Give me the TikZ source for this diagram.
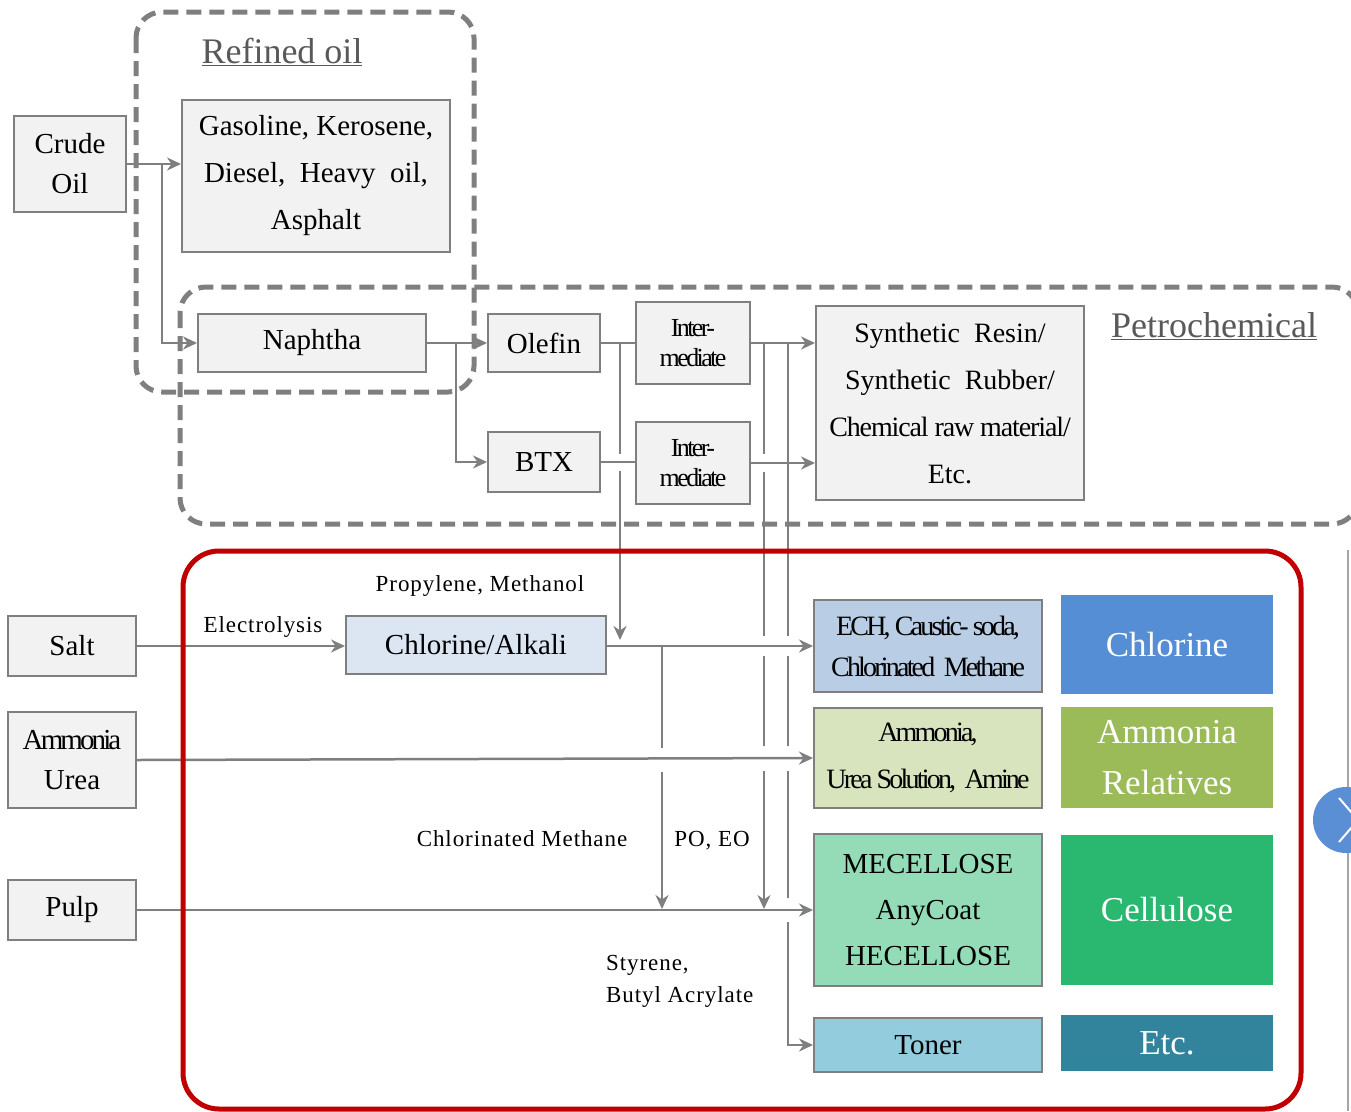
\documentclass[tikz,border=0pt]{standalone}
\usepackage{fontspec}
\setmainfont{Liberation Serif}
\newfontfamily\condfont[LetterSpace=-10]{Liberation Serif}
\newfontfamily\semicond[LetterSpace=-4]{Liberation Serif}
\newfontfamily\widefont[LetterSpace=4]{Liberation Serif}
\usetikzlibrary{arrows.meta}
\definecolor{lgray}{HTML}{7F7F7F}
\definecolor{boxfill}{HTML}{F2F2F2}
\definecolor{ttlgray}{HTML}{595959}
\definecolor{clfill}{HTML}{DCE6F2}
\definecolor{echfill}{HTML}{B9CDE5}
\definecolor{ammfill}{HTML}{D7E4BD}
\definecolor{mecfill}{HTML}{94DCB8}
\definecolor{tonfill}{HTML}{93CDDD}
\definecolor{catcl}{HTML}{558ED5}
\definecolor{catam}{HTML}{9BBB59}
\definecolor{catce}{HTML}{2AB870}
\definecolor{catet}{HTML}{31849B}
\definecolor{redb}{HTML}{C00000}
\definecolor{sidegray}{HTML}{A6A6A6}
\definecolor{circblue}{HTML}{5A8FD6}
\begin{document}
\begin{tikzpicture}[x=1pt,y=-1pt,
  gbox/.style={draw=lgray, line width=2pt, fill=boxfill, inner sep=0pt, align=center, text=black,
    font=\fontsize{29}{47}\selectfont},
  cbox/.style={inner sep=0pt, align=center, text=white, font=\fontsize{35}{51}\selectfont},
  conn/.style={draw=lgray, line width=2.5pt},
  arr/.style={conn, -{Stealth[length=14pt,width=13pt,inset=4.5pt]}},
  lbl/.style={inner sep=0pt, font=\widefont\fontsize{23}{32}\selectfont},
  grp/.style={draw=lgray, line width=5pt, dash pattern=on 15pt off 8pt, rounded corners=26pt},
  ttl/.style={inner sep=0pt, text=ttlgray, font=\fontsize{36}{40}\selectfont},
]
\useasboundingbox (0,0) rectangle (1351,1111);
\clip (0,0) rectangle (1351,1111);

% ---------- boxes ----------
\node[gbox, minimum width=112, minimum height=96, font=\fontsize{29}{40}\selectfont] (crude) at (70,164) {Crude\\Oil};
\node[gbox, minimum width=268, minimum height=152] (gas) at (316,176) {Gasoline, Kerosene,\\Diesel,\ \ Heavy\ \ oil,\\Asphalt};
\node[gbox, minimum width=228, minimum height=58] (naph) at (312,343) {Naphtha};
\node[gbox, minimum width=112, minimum height=58] (olefin) at (544,343) {Olefin};
\node[gbox, minimum width=112, minimum height=60] (btx) at (544,462) {BTX};
\node[gbox, minimum width=114, minimum height=82, font=\condfont\fontsize{26}{30}\selectfont] (int1) at (693,343) {Inter-\\mediate};
\node[gbox, minimum width=114, minimum height=82, font=\condfont\fontsize{26}{30}\selectfont] (int2) at (693,463) {Inter-\\mediate};
\node[gbox, minimum width=268, minimum height=194, font=\fontsize{28}{47}\selectfont] (synth) at (950,403)
  {Synthetic\ \ Resin/\\Synthetic\ \ Rubber/\\{\semicond Chemical raw material/}\\Etc.};

\node[gbox, minimum width=128, minimum height=60] (salt) at (72,646) {Salt};
\node[gbox, minimum width=128, minimum height=96, font=\fontsize{29}{40}\selectfont] (ammurea) at (72,760) {{\condfont Ammonia}\\Urea};
\node[gbox, minimum width=128, minimum height=60] (pulp) at (72,910) {Pulp};
\node[gbox, fill=clfill, minimum width=260, minimum height=58] (chloralk) at (476,645) {Chlorine/Alkali};

\node[gbox, fill=echfill, minimum width=228, minimum height=92, font=\condfont\fontsize{28}{41}\selectfont] (ech) at (928,646)
  {ECH, Caustic- soda,\\Chlorinated\ \ Methane};
\node[gbox, fill=ammfill, minimum width=228, minimum height=100, font=\condfont\fontsize{28}{47}\selectfont] (amm) at (928,758)
  {Ammonia,\\Urea Solution,\ \ Amine};
\node[gbox, fill=mecfill, minimum width=228, minimum height=152, font=\fontsize{29}{46}\selectfont] (mec) at (928,910)
  {MECELLOSE\\AnyCoat\\HECELLOSE};
\node[gbox, fill=tonfill, minimum width=228, minimum height=54] (toner) at (928,1045) {Toner};

\node[cbox, fill=catcl, minimum width=212, minimum height=99] (catcl) at (1167,644.5) {Chlorine};
\node[cbox, fill=catam, minimum width=212, minimum height=101] (catam) at (1167,757.5) {Ammonia\\Relatives};
\node[cbox, fill=catce, minimum width=212, minimum height=150] (catce) at (1167,910) {Cellulose};
\node[cbox, fill=catet, minimum width=212, minimum height=56] (catet) at (1167,1043) {Etc.};

% ---------- titles and labels ----------
\node[ttl] (reftitle) at (282,52) {\underline{Refined\ oil}};
\node[ttl] (pettitle) at (1214,326) {\underline{Petrochemical}};
\node[lbl] (lprop) at (480,586) {Propylene, Methanol};
\node[lbl] (lelec) at (263,627) {Electrolysis};
\node[lbl] (lchm) at (522,839) {Chlorinated Methane};
\node[lbl] (lpo) at (712,841) {PO,\ EO};
\node[lbl, anchor=west, align=left] (lsty) at (606,981) {Styrene,\\Butyl Acrylate};

% ---------- connectors ----------
\coordinate (j1) at (162,164);
\draw[arr] (crude.east) -- (crude.east -| gas.west);
\draw[arr] (j1) |- (naph.west);
\draw[arr] (naph.east) -- (olefin.west);
\coordinate (j2) at (456,343);
\draw[arr] (j2) |- (btx.west);
\draw[conn] (olefin.east) -- (int1.west);
\draw[conn] (btx.east) -- (btx.east -| int2.west);
\draw[arr] (int1.east) -- (int1.east -| synth.west);
\draw[arr] (int2.east) -- (int2.east -| synth.west);

% vertical x=620 (Propylene, Methanol)
\coordinate (a0) at (620,343);
\coordinate (a1) at (620,454);
\coordinate (a2) at (620,471);
\coordinate (a3) at (620,640);
\draw[conn] (a0) -- (a1);
\draw[arr] (a2) -- (a3);

\draw[arr] (salt.east) -- (salt.east -| chloralk.west);
\draw[arr] (chloralk.east |- ech.west) -- (ech.west);
\draw[arr] (ammurea.east) -- (amm.west);
\draw[arr] (pulp.east) -- (mec.west);

% vertical x=662 (Chlorinated Methane)
\coordinate (b0) at (662,646);
\coordinate (b1) at (662,748);
\coordinate (b2) at (662,772);
\coordinate (b3) at (662,909);
\draw[conn] (b0) -- (b1);
\draw[arr] (b2) -- (b3);

% vertical x=764 (PO, EO)
\coordinate (c0) at (764,343);
\coordinate (c1) at (764,454);
\coordinate (c2) at (764,472);
\coordinate (c3) at (764,636);
\coordinate (c4) at (764,656);
\coordinate (c5) at (764,746);
\coordinate (c6) at (764,771);
\coordinate (c7) at (764,909);
\draw[conn] (c0) -- (c1);
\draw[conn] (c2) -- (c3);
\draw[conn] (c4) -- (c5);
\draw[arr] (c6) -- (c7);

% vertical x=788 (Styrene, Butyl Acrylate)
\coordinate (d0) at (788,343);
\coordinate (d1) at (788,636);
\coordinate (d2) at (788,656);
\coordinate (d3) at (788,746);
\coordinate (d4) at (788,771);
\coordinate (d5) at (788,898);
\coordinate (d6) at (788,922);
\draw[conn] (d0) -- (d1);
\draw[conn] (d2) -- (d3);
\draw[conn] (d4) -- (d5);
\draw[arr] (d6) |- (toner.west);

% ---------- group frames ----------
\draw[grp] (136,12) rectangle (474,392);
\draw[grp] (180,287) rectangle (1358,524);
\draw[draw=redb, line width=5pt, rounded corners=36pt] (183,551) rectangle (1301,1109);

% ---------- right edge ----------
\draw[draw=sidegray, line width=2pt] (1348,550) -- (1348,1111);
\fill[circblue] (1346,820) circle (33);
\draw[white, line width=2pt] (1339,798) -- (1358,820) -- (1339,842);
\end{tikzpicture}
\end{document}
